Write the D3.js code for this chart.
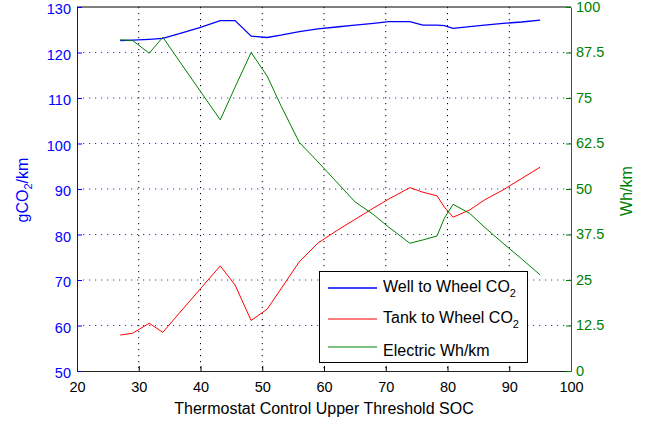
<!DOCTYPE html>
<html>
<head>
<meta charset="utf-8">
<script src="https://cdn.jsdelivr.net/npm/d3@7"></script>
<style>
  body { margin: 0; background: #fff; }
  svg { font-family: "Liberation Sans", Arial, Helvetica, sans-serif; }
</style>
</head>
<body>
<div id="chart-area"></div>
<script>
// thermostat upper threshold SOC (x)
const soc = [27, 29, 31.7, 33.9, 37, 40, 43.2, 45.6, 48.2, 50.8, 53, 56, 59, 62, 65, 68,
    70.5, 73.9, 76, 78.3, 79.5, 80.9, 83.6, 86, 89, 92, 95];
// gCO2/km, left axis
const wellToWheel = [122.6, 122.7, 122.9, 123.1, 124.3, 125.5, 127.0, 127.0, 123.6, 123.3, 123.8,
    124.6, 125.2, 125.6, 126.0, 126.4, 126.8, 126.8, 126.0, 126.0, 125.9, 125.3, 125.7, 126.0,
    126.4, 126.7, 127.1];
const tankToWheel = [57.9, 58.3, 60.5, 58.5, 63.4, 68.1, 73.1, 68.9, 61.1, 63.6, 68.0, 74.0,
    78.1, 80.8, 83.3, 85.8, 87.8, 90.3, 89.3, 88.5, 86.0, 83.8, 85.4, 87.6, 89.8, 92.3, 94.8];
// Wh/km, right axis
const electric = [91.0, 90.8, 87.3, 91.7, 84.1, 76.8, 69.0, 78.0, 87.5, 81.0, 73.0, 62.8,
    57.5, 52.0, 46.5, 43.0, 39.5, 35.1, 36.0, 37.1, 42.0, 45.8, 43.3, 39.5, 35.1, 30.8, 26.4];

const xTicks = [20, 30, 40, 50, 60, 70, 80, 90, 100];
const leftTicks = [50, 60, 70, 80, 90, 100, 110, 120, 130];
const rightTicks = [0, 12.5, 25, 37.5, 50, 62.5, 75, 87.5, 100];
const seriesNames = ["Well to Wheel CO", "Tank to Wheel CO", "Electric Wh/km"];

const blue = "#0000ff", red = "#ff0000", green = "#008000";

const width = 654, height = 421;
const margin = {top: 7, right: 83, bottom: 50, left: 77};
const plotW = width - margin.left - margin.right;
const plotH = height - margin.top - margin.bottom;

const svg = d3.select("#chart-area")
    .append("svg")
    .attr("width", width)
    .attr("height", height);

const g = svg.append("g")
    .attr("transform", `translate(${margin.left},${margin.top})`);

const x = d3.scaleLinear().domain([20, 100]).range([0, plotW]);
const yL = d3.scaleLinear().domain([50, 130]).range([plotH, 0]);
const yR = d3.scaleLinear().domain([0, 100]).range([plotH, 0]);

// grid
g.selectAll(".vgrid")
    .data(xTicks.slice(1, -1))
    .enter()
    .append("line")
    .attr("x1", d => x(d)).attr("x2", d => x(d))
    .attr("y1", 0).attr("y2", plotH)
    .attr("stroke", "#000")
    .attr("stroke-width", 1)
    .attr("stroke-dasharray", "1.2,4.8");

g.selectAll(".hgrid")
    .data(leftTicks.slice(1, -1))
    .enter()
    .append("line")
    .attr("x1", 0).attr("x2", plotW)
    .attr("y1", d => yL(d)).attr("y2", d => yL(d))
    .attr("stroke", "#3030ff")
    .attr("stroke-width", 1)
    .attr("stroke-dasharray", "1.2,4.8");

// frame top
g.append("line")
    .attr("x1", 0).attr("x2", plotW)
    .attr("y1", 0).attr("y2", 0)
    .attr("stroke", "#000");

// axes
const xAxis = g.append("g")
    .attr("transform", `translate(0,${plotH})`)
    .call(d3.axisBottom(x).tickValues(xTicks).tickSize(-5).tickSizeOuter(0).tickPadding(11));
xAxis.select(".domain").attr("stroke", "#222");
xAxis.selectAll("text").attr("fill", "#000").style("font-size", "14.5px");

const leftAxis = g.append("g")
    .call(d3.axisLeft(yL).tickValues(leftTicks).tickSize(-5).tickSizeOuter(0).tickPadding(6));
leftAxis.select(".domain").attr("stroke", blue);
leftAxis.selectAll(".tick line").attr("stroke", blue);
leftAxis.selectAll("text").attr("fill", blue).attr("dy", "0.45em").style("font-size", "14.5px");

const rightAxis = g.append("g")
    .attr("transform", `translate(${plotW},0)`)
    .call(d3.axisRight(yR).tickValues(rightTicks).tickSize(-5).tickSizeOuter(0).tickPadding(5)
        .tickFormat(d => String(d)));
rightAxis.select(".domain").attr("stroke", green);
rightAxis.selectAll(".tick line").attr("stroke", green);
rightAxis.selectAll("text").attr("fill", green).attr("dy", "0.3em").style("font-size", "14.5px");

// lines
const lineL = (vals) => d3.line().x((d, i) => x(soc[i])).y(d => yL(d))(vals);
const lineR = (vals) => d3.line().x((d, i) => x(soc[i])).y(d => yR(d))(vals);

g.append("path").attr("d", lineL(wellToWheel))
    .attr("fill", "none").attr("stroke", blue).attr("stroke-width", 1.3);
g.append("path").attr("d", lineL(tankToWheel))
    .attr("fill", "none").attr("stroke", red).attr("stroke-width", 1);
g.append("path").attr("d", lineR(electric))
    .attr("fill", "none").attr("stroke", green).attr("stroke-width", 1);

// axis labels
svg.append("text")
    .attr("x", margin.left + plotW / 2)
    .attr("y", 414)
    .attr("text-anchor", "middle")
    .style("font-size", "16px")
    .text("Thermostat Control Upper Threshold SOC");

const yLabel = svg.append("text")
    .attr("transform", "translate(27.5,190) rotate(-90)")
    .attr("text-anchor", "middle")
    .attr("fill", blue)
    .style("font-size", "16px");
yLabel.append("tspan").text("gCO");
yLabel.append("tspan").attr("dy", 4).style("font-size", "11px").text("2");
yLabel.append("tspan").attr("dy", -4).text("/km");

svg.append("text")
    .attr("transform", "translate(632,191) rotate(-90)")
    .attr("text-anchor", "middle")
    .attr("fill", green)
    .style("font-size", "16px")
    .text("Wh/km");

// legend
const legend = svg.append("g");
legend.append("rect")
    .attr("x", 319.5).attr("y", 271.5)
    .attr("width", 208).attr("height", 91)
    .attr("fill", "#fff").attr("stroke", "#000");

const rowY = [288, 319, 347];
const textY = [292, 323, 356];
const colors = [blue, red, green];
seriesNames.forEach((name, i) => {
    legend.append("line")
        .attr("x1", 328).attr("x2", 377)
        .attr("y1", rowY[i]).attr("y2", rowY[i])
        .attr("stroke", colors[i]).attr("stroke-width", i === 0 ? 1.3 : 1);
    const t = legend.append("text")
        .attr("x", 383).attr("y", textY[i])
        .style("font-size", "16px");
    t.append("tspan").text(name);
    if (i < 2) {
        t.append("tspan").attr("dy", 5).style("font-size", "11px").text("2");
    }
});
</script>
</body>
</html>
